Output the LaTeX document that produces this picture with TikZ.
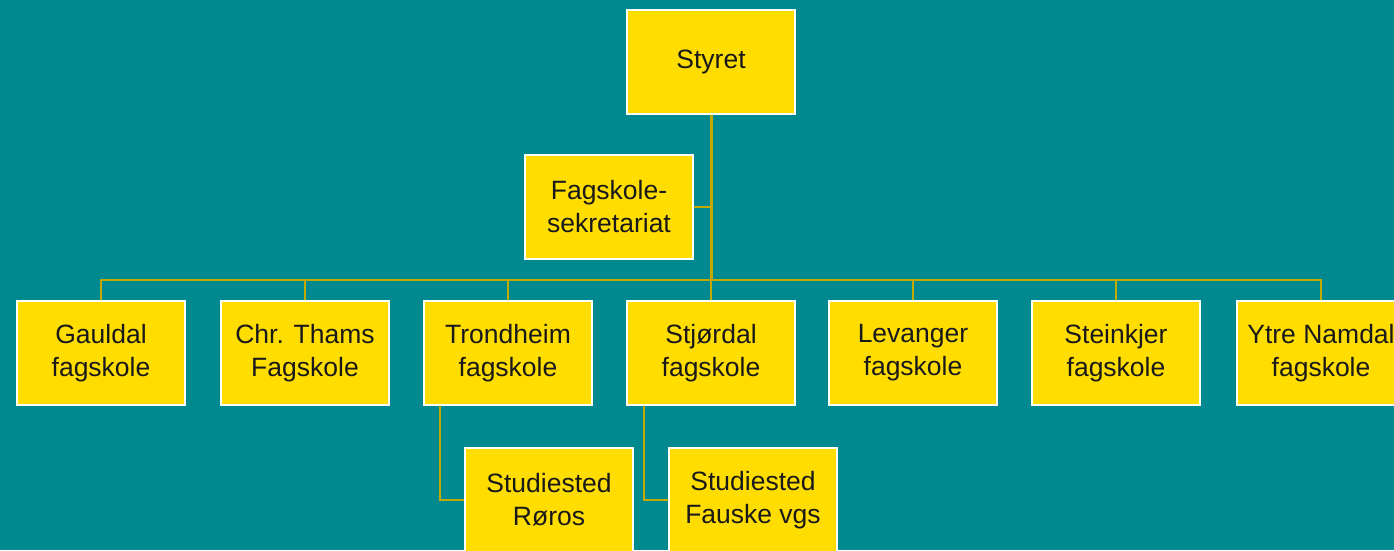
\documentclass[tikz,border=0pt]{standalone}
\usepackage{fontspec}
\setmainfont{Liberation Sans}
\definecolor{bg}{RGB}{0,137,142}
\definecolor{boxy}{RGB}{255,221,0}
\definecolor{lin}{RGB}{196,170,0}
\begin{document}
\begin{tikzpicture}[x=1pt,y=-1pt,
  orgbox/.style={draw=white,line width=1.5pt,fill=boxy,minimum width=168pt,minimum height=104pt,
    inner sep=0pt,align=center,font=\fontsize{26.5}{33}\selectfont,text=black!90},
  conn/.style={draw=lin,line width=2pt},
  trunk/.style={draw=lin,line width=3pt}]
\fill[bg] (0,0) rectangle (1394,550);
\useasboundingbox (0,0) rectangle (1394,550);
\node[orgbox] (styret) at (711,62) {Styret};
\node[orgbox] (sekr) at (609,207) {Fagskole-\\sekretariat};
\node[orgbox] (gauldal) at (101,353) {Gauldal\\fagskole};
\node[orgbox] (thams) at (305,353) {Chr. Thams\\Fagskole};
\node[orgbox] (trondheim) at (508,353) {Trondheim\\fagskole};
\node[orgbox] (stjordal) at (711,353) {Stjørdal\\fagskole};
\node[orgbox] (levanger) at (913,353) {Levanger\\fagskole};
\node[orgbox] (steinkjer) at (1116,353) {Steinkjer\\fagskole};
\node[orgbox] (ytre) at (1321,353) {Ytre Namdal\\fagskole};
\node[orgbox] (roros) at (549,500) {Studiested\\Røros};
\node[orgbox] (fauske) at (753,500) {Studiested\\Fauske vgs};
\coordinate (bus) at (711,280);
\draw[trunk] (styret.south) -- (bus);
\draw[conn] (sekr.east) -- (sekr.east -| styret.south);
\foreach \n in {gauldal,thams,trondheim,stjordal,levanger,steinkjer,ytre}
  \draw[conn] (bus) -| (\n.north);
\draw[conn] ([xshift=-68pt]trondheim.south) |- (roros.west);
\draw[conn] ([xshift=-67pt]stjordal.south) |- (fauske.west);
\end{tikzpicture}
\end{document}
